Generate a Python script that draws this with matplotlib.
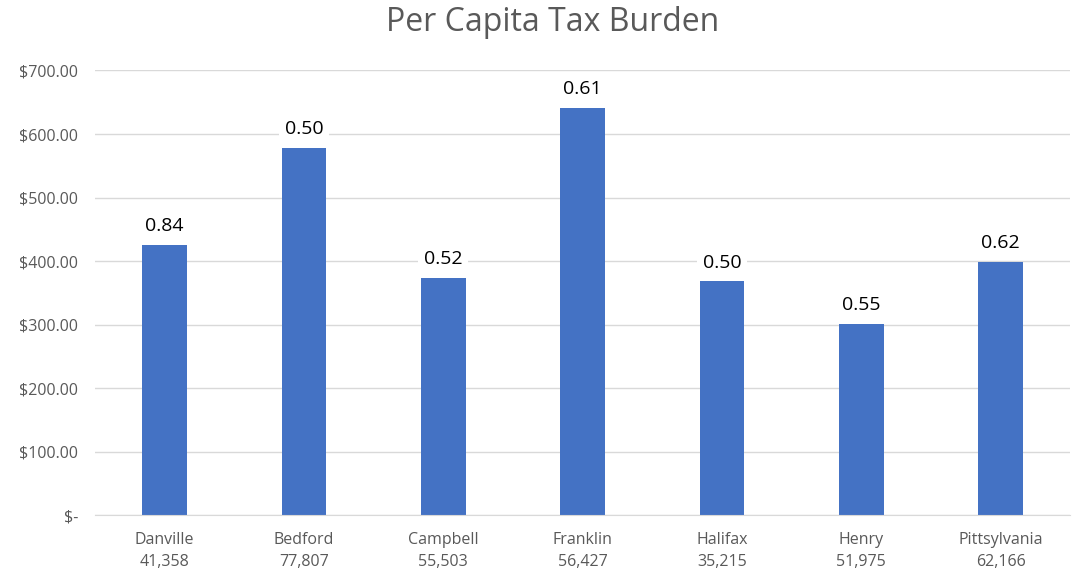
import matplotlib
matplotlib.use("Agg")
import matplotlib.pyplot as plt
from matplotlib.ticker import FuncFormatter

counties = ["Danville", "Bedford", "Campbell", "Franklin", "Halifax", "Henry", "Pittsylvania"]
populations = ["41,358", "77,807", "55,503", "56,427", "35,215", "51,975", "62,166"]
per_capita = [426, 578, 374, 641, 368, 301, 399]
bar_labels = ["0.84", "0.50", "0.52", "0.61", "0.50", "0.55", "0.62"]
yticks = [0, 100, 200, 300, 400, 500, 600, 700]

plt.rcParams['font.family'] = ['Open Sans', 'DejaVu Sans']

fig = plt.figure(figsize=(10.86, 5.73), dpi=100)
ax = fig.add_axes([0.0875, 0.101, 0.898, 0.776])

x = list(range(len(counties)))
ax.bar(x, per_capita, width=0.32, color="#4472C4", zorder=2)

for xi, v, lab in zip(x, per_capita, bar_labels):
    ax.annotate(lab, (xi, v), xytext=(0, 7), textcoords="offset points",
                ha="center", va="bottom", fontsize=14, color="#000000", zorder=3,
                bbox=dict(boxstyle="square,pad=0.3", fc="white", ec="none"))

ax.set_xlim(-0.5, len(counties) - 0.5)
ax.set_ylim(0, 700)
ax.set_yticks(yticks)
ax.yaxis.set_major_formatter(FuncFormatter(lambda v, p: "$-" if v == 0 else f"${v:,.2f}"))
ax.set_xticks(x)
ax.set_xticklabels([f"{c}\n{p}" for c, p in zip(counties, populations)], linespacing=1.5)

ax.grid(axis="y", color="#D9D9D9", linewidth=1, zorder=0)
for s in ["top", "right", "left"]:
    ax.spines[s].set_visible(False)
ax.spines["bottom"].set_color("#D9D9D9")
ax.tick_params(axis="both", length=0, labelsize=11.5, colors="#595959")
ax.tick_params(axis="y", pad=12)
ax.tick_params(axis="x", pad=12)

fig.suptitle("Per Capita Tax Burden", x=0.509, y=0.99, fontsize=23, color="#595959")

fig.savefig("out.png", dpi=100, facecolor="white")
